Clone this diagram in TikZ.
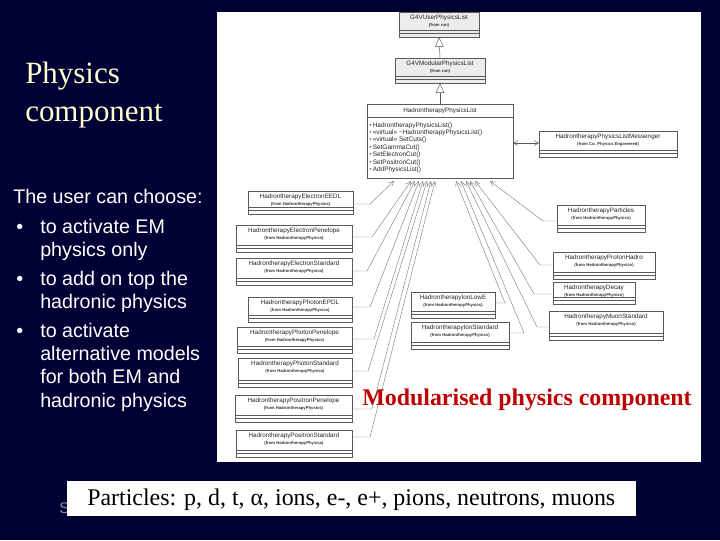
\documentclass[tikz,border=0pt]{standalone}
\usepackage{fontspec}
\setmainfont{Liberation Serif}
\setsansfont{Liberation Sans}
\usetikzlibrary{arrows.meta,calc}
\definecolor{navy}{RGB}{0,0,52}
\definecolor{titley}{RGB}{255,255,204}
\definecolor{modred}{RGB}{192,0,0}
\definecolor{umlline}{RGB}{90,90,90}
\definecolor{conncol}{RGB}{125,125,125}
\definecolor{gfourfill}{RGB}{236,236,236}
\tikzset{
 clsbox/.style={draw=umlline, line width=0.35pt, inner sep=0pt, outer sep=0pt},
 clsline/.style={draw=umlline, line width=0.3pt},
 cname/.style={font=\sffamily\fontsize{4.5}{5}\selectfont, inner sep=0pt, text=black!85},
 cfrom/.style={font=\sffamily\bfseries\fontsize{3}{3.5}\selectfont, inner sep=0pt, text=black!80},
 cop/.style={font=\sffamily\fontsize{4.6}{5}\selectfont, inner sep=0pt, anchor=base west, text=black!85},
 conn/.style={draw=conncol, line width=0.3pt, -{Straight Barb[length=3.5pt,width=3.5pt]}},
 gen/.style={draw=umlline, line width=0.35pt, -{Triangle[open,length=7pt,width=6pt]}},
 assoc/.style={draw=umlline, line width=0.35pt, {Straight Barb[length=3pt,width=3.5pt]}-{Straight Barb[length=3pt,width=3.5pt]}},
 slidetitle/.style={font=\fontsize{22}{27}\selectfont, text=titley, anchor=base west, inner sep=0pt},
 body/.style={font=\sffamily\fontsize{14}{17}\selectfont, text=white, anchor=base west, inner sep=0pt},
}
\newcommand\umlcls[8]{%
  \node[clsbox,#1,anchor=north west,minimum width={(#5-#3)*0.025cm},minimum height={(#6-#4)*0.025cm}] (#2) at (#3,#4) {};
  \node[cname] (#2-n) at ({(#3+#5)/2},{#4+6}) {#7};
  \node[cfrom] (#2-f) at ({(#3+#5)/2},{#4+13}) {#8};
  \draw[clsline] (#3,{#6-7}) -- (#5,{#6-7});
  \draw[clsline] (#3,{#6-4}) -- (#5,{#6-4});
}
\begin{document}
\begin{tikzpicture}[x=0.025cm,y=-0.025cm]
\useasboundingbox (0,0) rectangle (720,540);
\fill[navy] (0,0) rectangle (720,540);
% slide text
\node[slidetitle] (t1) at (25,83) {Physics};
\node[slidetitle] (t2) at (25,121) {component};
\node[body] (b0) at (13,203) {The user can choose:};
\node[body] (d1) at (16,233) {•};
\node[body] (b1) at (40,233) {to activate EM};
\node[body] (b2) at (40,256) {physics only};
\node[body] (d2) at (16,285) {•};
\node[body] (b3) at (40,285) {to add on top the};
\node[body] (b4) at (40,308) {hadronic physics};
\node[body] (d3) at (16,337) {•};
\node[body] (b5) at (40,337) {to activate};
\node[body] (b6) at (40,360) {alternative models};
\node[body] (b7) at (40,383) {for both EM and};
\node[body] (b8) at (40,407) {hadronic physics};
% diagram panel
\fill[white] (217,12) rectangle (701,462);
\umlcls{fill=gfourfill}{upl}{399}{12}{479}{37}{G4VUserPhysicsList}{(from run)}
\umlcls{fill=gfourfill}{mpl}{395}{58}{485}{83}{G4VModularPhysicsList}{(from run)}
\node[clsbox,fill=white,anchor=north west,minimum width={146*0.025cm},minimum height={74*0.025cm}] (pl) at (367,104) {};
\node[cname] (pl-n) at (440,111) {HadrontherapyPhysicsList};
\draw[clsline] (367,117) -- (513,117);
\foreach \yy/\tt [count=\i] in {127/HadrontherapyPhysicsList(),134.4/{<<virtual>> \textasciitilde HadrontherapyPhysicsList()},141.8/{<<virtual>> SetCuts()},149.2/SetGammaCut(),156.6/SetElectronCut(),164/SetPositronCut(),171.4/AddPhysicsList()}{
  \node[cop,text=black!55] (pl-b\i) at (369,\yy) {•};
  \node[cop] (pl-o\i) at (372.5,\yy) {\tt};
}
\umlcls{fill=white}{msg}{539}{131}{677}{157}{HadrontherapyPhysicsListMessenger}{(from Co. Physics Engineered)}
\umlcls{fill=white}{eedl}{248}{191}{353}{214}{HadrontherapyElectronEEDL}{(from HadrontherapyPhysics)}
\umlcls{fill=white}{elpen}{236}{225}{352}{252}{HadrontherapyElectronPenelope}{(from HadrontherapyPhysics)}
\umlcls{fill=white}{elstd}{236}{258}{352}{285}{HadrontherapyElectronStandard}{(from HadrontherapyPhysics)}
\umlcls{fill=white}{phepdl}{248}{297}{352}{322}{HadrontherapyPhotonEPDL}{(from HadrontherapyPhysics)}
\umlcls{fill=white}{phpen}{237}{327}{352}{353}{HadrontherapyPhotonPenelope}{(from HadrontherapyPhysics)}
\umlcls{fill=white}{phstd}{238}{358}{352}{387}{HadrontherapyPhotonStandard}{(from HadrontherapyPhysics)}
\umlcls{fill=white}{pospen}{235}{395}{352}{422}{HadrontherapyPositronPenelope}{(from HadrontherapyPhysics)}
\umlcls{fill=white}{posstd}{236}{430}{352}{457}{HadrontherapyPositronStandard}{(from HadrontherapyPhysics)}
\umlcls{fill=white}{il}{411}{292}{495}{318}{HadrontherapyIonLowE}{(from HadrontherapyPhysics)}
\umlcls{fill=white}{is}{411}{322}{509}{349}{HadrontherapyIonStandard}{(from HadrontherapyPhysics)}
\umlcls{fill=white}{pa}{557}{205}{645}{232}{HadrontherapyParticles}{(from HadrontherapyPhysics)}
\umlcls{fill=white}{ph}{553}{252}{655}{279}{HadrontherapyProtonHadro}{(from HadrontherapyPhysics)}
\umlcls{fill=white}{dc}{553}{282}{635}{304}{HadrontherapyDecay}{(from HadrontherapyPhysics)}
\umlcls{fill=white}{mu}{549}{311}{663}{340}{HadrontherapyMuonStandard}{(from HadrontherapyPhysics)}
% generalisations and association
\draw[gen] (mpl.north) -- (upl.south);
\draw[gen] (pl.north) -- (mpl.south);
\draw[assoc] (pl.east |- 0,143) -- (msg.west |- 0,143);
% arrow tips at the physics list
\coordinate (tEEDL) at (394,181);
\coordinate (tElPen) at (411,181);
\coordinate (tElStd) at (415,181);
\coordinate (tPhEPDL) at (419,181);
\coordinate (tPhPen) at (423,181);
\coordinate (tPhStd) at (427,181);
\coordinate (tPosPen) at (431,181);
\coordinate (tPosStd) at (435,181);
\coordinate (tIL) at (456,181);
\coordinate (tIS) at (461,181);
\coordinate (tMU) at (466,181);
\coordinate (tDC) at (470,181);
\coordinate (tPH) at (475,181);
\coordinate (tPA) at (490,181);
\draw[conn] (eedl.east |- 0,204) -- (370,204) -- (tEEDL);
\draw[conn] (elpen.east |- 0,237) -- (372,237) -- (tElPen);
\draw[conn] (elstd.east |- 0,271) -- (367,271) -- (tElStd);
\draw[conn] (phepdl.east |- 0,307) -- (370,307) -- (tPhEPDL);
\draw[conn] (phpen.east |- 0,339) -- (374,339) -- (tPhPen);
\draw[conn] (phstd.east |- 0,371) -- (368,371) -- (tPhStd);
\draw[conn] (pospen.east |- 0,409) -- (372,409) -- (tPosPen);
\draw[conn] (posstd.east |- 0,437) -- (370,437) -- (tPosStd);
\draw[conn] (il.east |- 0,303) -- (505,303) -- (tIL);
\draw[conn] (is.east |- 0,333) -- (524,333) -- (tIS);
\draw[conn] (mu.west |- 0,327) -- (537,327) -- (tMU);
\draw[conn] (dc.west |- 0,294) -- (534,294) -- (tDC);
\draw[conn] (ph.west |- 0,265) -- (540,265) -- (tPH);
\draw[conn] (pa.west |- 0,221) -- (543,221) -- (tPA);
% caption
\node[anchor=base west, inner sep=0pt, text=modred, font=\bfseries\fontsize{17}{20}\selectfont] (mod) at (362,405) {Modularised physics component};
% bottom
\node[anchor=base west, inner sep=0pt, text=black!45, font=\sffamily\fontsize{11}{13}\selectfont] (sfrag) at (59,513) {S};
\node[fill=white, anchor=north west, inner sep=0pt, minimum width={569*0.025cm}, minimum height={35*0.025cm}] (pbox) at (67,481) {};
\node[anchor=base west, inner sep=0pt, text=black, font=\fontsize{17}{20}\selectfont] (ptext) at (87,505) {Particles: p, d, t, α, ions, e-, e+, pions, neutrons, muons};
\end{tikzpicture}
\end{document}
